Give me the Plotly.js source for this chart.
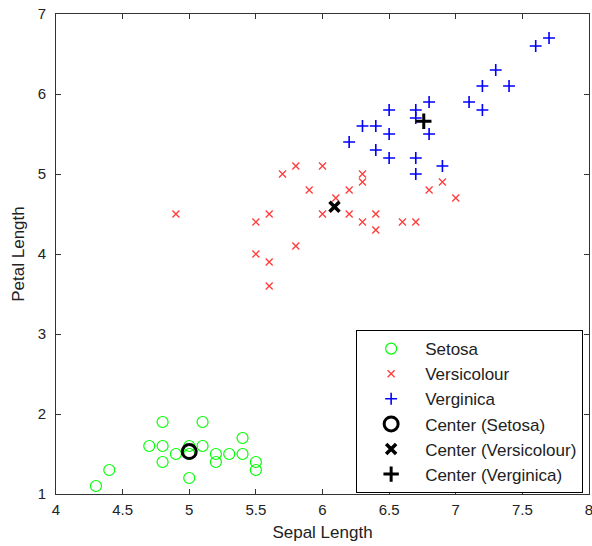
<!DOCTYPE html>
<html>
<head>
<meta charset="utf-8">
<script src="https://cdn.plot.ly/plotly-3.0.1.min.js"></script>
<style>html,body{margin:0;padding:0;background:#fff;}#chart{width:592px;height:546px;}</style>
</head>
<body>
<div id="chart"></div>
<script>
// Setosa
const setosaX = [4.3, 4.4, 4.8, 5.1, 4.7, 4.8, 4.8, 4.9, 5.0, 5.0, 5.0, 5.1, 5.2, 5.2, 5.3, 5.4, 5.4, 5.5, 5.5];
const setosaY = [1.1, 1.3, 1.9, 1.9, 1.6, 1.6, 1.4, 1.5, 1.6, 1.5, 1.2, 1.6, 1.5, 1.4, 1.5, 1.7, 1.5, 1.4, 1.3];
// Versicolour
const versiX = [4.9, 5.5, 5.6, 5.7, 5.8, 6.0, 5.9, 5.5, 5.6, 5.8, 5.6, 6.0, 6.1, 6.2, 6.2, 6.3, 6.3, 6.3, 6.4, 6.4, 6.6, 6.7, 6.8, 6.9, 7.0];
const versiY = [4.5, 4.4, 4.5, 5.0, 5.1, 5.1, 4.8, 4.0, 3.9, 4.1, 3.6, 4.5, 4.7, 4.8, 4.5, 5.0, 4.9, 4.4, 4.5, 4.3, 4.4, 4.4, 4.8, 4.9, 4.7];
// Verginica
const vergX = [6.2, 6.3, 6.4, 6.4, 6.5, 6.5, 6.5, 6.7, 6.7, 6.7, 6.7, 6.8, 6.8, 6.9, 7.1, 7.2, 7.2, 7.3, 7.4, 7.6, 7.7];
const vergY = [5.4, 5.6, 5.6, 5.3, 5.8, 5.5, 5.2, 5.8, 5.7, 5.2, 5.0, 5.9, 5.5, 5.1, 5.9, 6.1, 5.8, 6.3, 6.1, 6.6, 6.7];
// Centers
const centerSetosa = [5.0, 1.53];
const centerVersi = [6.09, 4.59];
const centerVerg = [6.76, 5.66];
const xTicks = [4, 4.5, 5, 5.5, 6, 6.5, 7, 7.5, 8];
const yTicks = [1, 2, 3, 4, 5, 6, 7];

const FONT = 'Liberation Sans, Arial, sans-serif';

const traces = [
  {x: setosaX, y: setosaY, name: 'Setosa', mode: 'markers', type: 'scatter',
   marker: {symbol: 'circle-open', size: 11, color: '#00ff00', line: {width: 1.2, color: '#00ff00'}}},
  {x: versiX, y: versiY, name: 'Versicolour', mode: 'markers', type: 'scatter',
   marker: {symbol: 'x-thin-open', size: 7, color: '#ff3b3b', line: {width: 1.3, color: '#ff3b3b'}}},
  {x: vergX, y: vergY, name: 'Verginica', mode: 'markers', type: 'scatter',
   marker: {symbol: 'cross-thin-open', size: 8.5, color: '#0000ff', line: {width: 1.6, color: '#0000ff'}}},
  {x: [centerSetosa[0]], y: [centerSetosa[1]], name: 'Center (Setosa)', mode: 'markers', type: 'scatter',
   marker: {symbol: 'circle-open', size: 14, color: '#000', line: {width: 3, color: '#000'}}},
  {x: [centerVersi[0]], y: [centerVersi[1]], name: 'Center (Versicolour)', mode: 'markers', type: 'scatter',
   marker: {symbol: 'x-thin-open', size: 10, color: '#000', line: {width: 3.5, color: '#000'}}},
  {x: [centerVerg[0]], y: [centerVerg[1]], name: 'Center (Verginica)', mode: 'markers', type: 'scatter',
   marker: {symbol: 'cross-thin-open', size: 11, color: '#000', line: {width: 3, color: '#000'}}}
];

const axisCommon = {
  showgrid: false, zeroline: false, showline: true, linecolor: '#333', linewidth: 1,
  mirror: 'ticks', ticks: 'inside', ticklen: 5, tickcolor: '#333',
  ticklabeloverflow: 'allow',
  tickfont: {family: FONT, size: 15, color: '#222'}
};

const layout = {
  width: 592, height: 546,
  margin: {l: 56, r: 3, t: 14, b: 52},
  paper_bgcolor: '#fff', plot_bgcolor: '#fff',
  font: {family: FONT, size: 15, color: '#222'},
  xaxis: Object.assign({}, axisCommon, {
    range: [4, 8], tickvals: xTicks, ticktext: xTicks.map(String),
    ticklabelstandoff: 2,
    title: {text: 'Sepal Length', font: {family: FONT, size: 17, color: '#222'}, standoff: 9}
  }),
  yaxis: Object.assign({}, axisCommon, {
    range: [1, 7], tickvals: yTicks, ticktext: yTicks.map(String),
    ticklabelstandoff: 6,
    title: {text: 'Petal Length', font: {family: FONT, size: 17, color: '#222'}, standoff: 8}
  }),
  showlegend: true,
  legend: {
    x: 0.989, xanchor: 'right', y: 0.002, yanchor: 'bottom',
    bgcolor: '#fff', bordercolor: '#000', borderwidth: 1,
    font: {family: FONT, size: 17, color: '#222'},
    itemwidth: 58, tracegroupgap: 0
  }
};

Plotly.newPlot('chart', traces, layout, {displayModeBar: false, staticPlot: true});
</script>
</body>
</html>
